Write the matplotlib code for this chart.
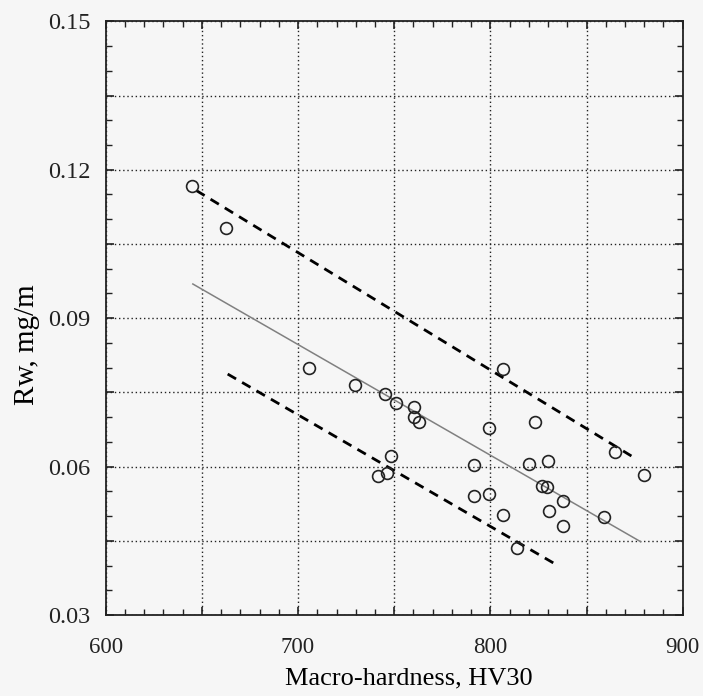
import matplotlib.pyplot as plt
from matplotlib.ticker import FuncFormatter, MultipleLocator

# hardness (HV30) vs wear rate Rw (mg/m)
hardness = [645.0, 662.6, 705.6, 729.4, 745.0, 751.0, 760.2, 760.2, 763.1,
            806.8, 799.5, 823.2, 748.4, 746.1, 741.8, 791.7, 819.9, 829.8,
            865.0, 879.8, 791.7, 799.5, 826.8, 829.2, 837.6, 806.8, 830.3,
            837.6, 859.2, 813.7]
wear = [0.1168, 0.1083, 0.0800, 0.0764, 0.0746, 0.0729, 0.0721, 0.0700, 0.0690,
        0.0797, 0.0677, 0.0691, 0.0622, 0.0588, 0.0580, 0.0603, 0.0605, 0.0612,
        0.0629, 0.0583, 0.0541, 0.0545, 0.0561, 0.0558, 0.0530, 0.0502, 0.0510,
        0.0479, 0.0499, 0.0435]

# regression line and upper / lower bounds (end points)
fit_x = [645.3, 878.2]
fit_y = [0.0969, 0.0448]
upper_x = [647.1, 873.9]
upper_y = [0.1158, 0.0620]
lower_x = [663.4, 835.5]
lower_y = [0.0787, 0.0399]

plt.rcParams["font.family"] = ["Liberation Serif", "DejaVu Serif"]
bg = "#f6f6f6"

fig = plt.figure(figsize=(7.03, 6.96), dpi=100, facecolor=bg)
ax = fig.add_axes([0.1504, 0.1164, 0.8207, 0.8530], facecolor=bg)

ax.plot(fit_x, fit_y, color="#808080", linewidth=1.1, zorder=2)
ax.plot(upper_x, upper_y, color="black", linewidth=2.0, dashes=(3.5, 2.5), zorder=2)
ax.plot(lower_x, lower_y, color="black", linewidth=2.0, dashes=(3.5, 2.5), zorder=2)
ax.plot(hardness, wear, linestyle="none", marker="o", markersize=8.5,
        markerfacecolor="none", markeredgecolor="#222222", markeredgewidth=1.2,
        zorder=3)

ax.set_xlim(600, 900)
ax.set_ylim(0.03, 0.15)

ax.xaxis.set_major_locator(MultipleLocator(50))
ax.xaxis.set_minor_locator(MultipleLocator(10))
ax.yaxis.set_major_locator(MultipleLocator(0.015))
ax.yaxis.set_minor_locator(MultipleLocator(0.005))
ax.xaxis.set_major_formatter(FuncFormatter(
    lambda v, _: f"{v:.0f}" if round(v) % 100 == 0 else ""))
ax.yaxis.set_major_formatter(FuncFormatter(
    lambda v, _: f"{v:.2f}" if round(v * 1000) % 30 == 0 else ""))

ax.grid(True, which="major", color="#222222", linestyle=(0, (1, 2.0)), linewidth=1.0)
ax.tick_params(which="both", direction="in", top=True, right=True, colors="#222222")
ax.tick_params(which="major", length=6, width=1.2)
ax.tick_params(axis="x", which="major", pad=16, labelsize=16.5)
ax.tick_params(axis="y", which="major", pad=11, labelsize=17.5)
ax.tick_params(which="minor", length=4, width=1.0)
for spine in ax.spines.values():
    spine.set_linewidth(1.3)
    spine.set_color("#222222")

ax.set_xlabel("Macro-hardness, HV30", fontsize=19, labelpad=7)
ax.set_ylabel("Rw, mg/m", fontsize=21, labelpad=6)
ax.xaxis.label.set_x(0.526)
ax.yaxis.label.set_y(0.455)

fig.savefig("out.png", dpi=100, facecolor=bg)
